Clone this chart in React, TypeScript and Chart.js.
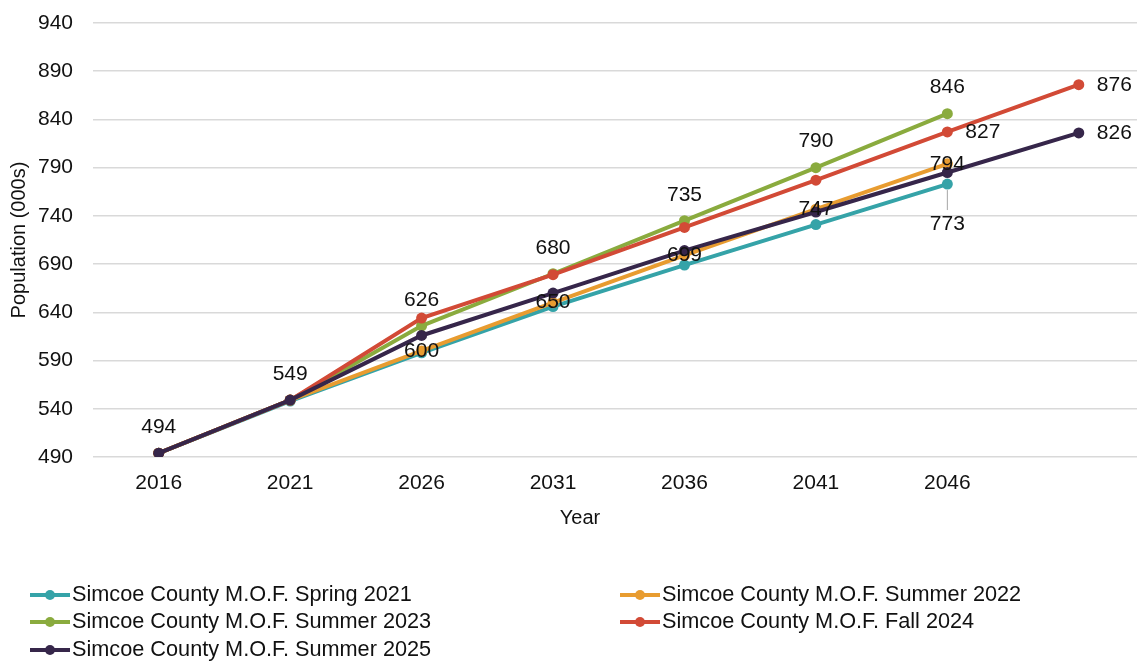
import React, { useEffect, useRef } from "react";
import { Chart, registerables } from "chart.js";

Chart.register(...registerables);

// Census / projection years (the last slot is an unlabelled 2051 projection)
const years = ["2016", "2021", "2026", "2031", "2036", "2041", "2046", ""];

// Population projections, thousands
const spring2021 = [494, 548, 598, 646, 689, 731, 773, null];
const summer2022 = [494, 549, 600, 650, 699, 747, 794, null];
const summer2023 = [494, 549, 626, 680, 735, 790, 846, null];
const fall2024 = [494, 549, 634, 679, 728, 777, 827, 876];
const summer2025 = [494, 549, 616, 660, 704, 744, 785, 826];

const seriesNames = [
  "Simcoe County M.O.F. Spring 2021",
  "Simcoe County M.O.F. Summer 2022",
  "Simcoe County M.O.F. Summer 2023",
  "Simcoe County M.O.F. Fall 2024",
  "Simcoe County M.O.F. Summer 2025",
];
const seriesColors = ["#35a3a8", "#e89c30", "#8aab3e", "#d24a36", "#36264a"];

// Where each point's value label sits: a = above, c = centred, b = below, r = right
const labelsSpring2021 = ["", "", "", "", "", "", "b", ""];
const labelsSummer2022 = ["", "", "c", "c", "c", "c", "c", ""];
const labelsSummer2023 = ["a", "a", "a", "a", "a", "a", "a", ""];
const labelsFall2024 = ["", "", "", "", "", "", "r", "r"];
const labelsSummer2025 = ["", "", "", "", "", "", "", "r"];

const yMin = 490;
const yMax = 940;
const yStep = 50;

const FONT = "'Liberation Sans', Arial, sans-serif";
const TEXT = "#111111";

const valueLabels = {
  id: "valueLabels",
  afterDatasetsDraw(chart: any) {
    const ctx = chart.ctx;
    ctx.save();
    ctx.font = `21px ${FONT}`;
    ctx.fillStyle = TEXT;
    chart.data.datasets.forEach((ds: any, i: number) => {
      const meta = chart.getDatasetMeta(i);
      meta.data.forEach((pt: any, j: number) => {
        const v = ds.data[j];
        const pos = ds.labelPos[j];
        if (v == null || !pos) return;
        const text = String(v);
        const { x, y } = pt;
        if (pos === "a") {
          ctx.textAlign = "center";
          ctx.textBaseline = "middle";
          ctx.fillText(text, x, y - 26);
        } else if (pos === "c") {
          ctx.textAlign = "center";
          ctx.textBaseline = "middle";
          ctx.fillText(text, x, y);
        } else if (pos === "b") {
          ctx.strokeStyle = "#a6a6a6";
          ctx.lineWidth = 1;
          ctx.beginPath();
          ctx.moveTo(x, y + 6);
          ctx.lineTo(x, y + 26);
          ctx.stroke();
          ctx.textAlign = "center";
          ctx.textBaseline = "middle";
          ctx.fillText(text, x, y + 40);
        } else if (pos === "r") {
          ctx.textAlign = "left";
          ctx.textBaseline = "middle";
          ctx.fillText(text, x + 18, y);
        }
      });
    });
    ctx.restore();
  },
};

const legendAndTitle = {
  id: "legendAndTitle",
  afterDraw(chart: any) {
    const ctx = chart.ctx;
    const area = chart.chartArea;
    ctx.save();
    // x-axis title
    ctx.font = `20px ${FONT}`;
    ctx.fillStyle = TEXT;
    ctx.textAlign = "center";
    ctx.textBaseline = "middle";
    ctx.fillText("Year", area.left + 487, 518);

    // legend, two columns
    const cols = [30, 620];
    const rows = [595, 622, 650];
    ctx.font = `21.7px ${FONT}`;
    seriesNames.forEach((name, i) => {
      const x0 = cols[i % 2];
      const yc = rows[Math.floor(i / 2)];
      ctx.strokeStyle = seriesColors[i];
      ctx.fillStyle = seriesColors[i];
      ctx.lineWidth = 4;
      ctx.beginPath();
      ctx.moveTo(x0, yc);
      ctx.lineTo(x0 + 40, yc);
      ctx.stroke();
      ctx.beginPath();
      ctx.arc(x0 + 20, yc, 5, 0, Math.PI * 2);
      ctx.fill();
      ctx.fillStyle = TEXT;
      ctx.textAlign = "left";
      ctx.textBaseline = "middle";
      ctx.fillText(name, x0 + 42, yc);
    });
    ctx.restore();
  },
};

export default function App() {
  const ref = useRef<HTMLCanvasElement | null>(null);

  useEffect(() => {
    if (!ref.current) return;
    const series = [spring2021, summer2022, summer2023, fall2024, summer2025];
    const labelSets = [labelsSpring2021, labelsSummer2022, labelsSummer2023, labelsFall2024, labelsSummer2025];
    const drawOrder = [4, 3, 2, 1, 0];
    const chart = new Chart(ref.current, {
      type: "line",
      data: {
        labels: years,
        datasets: series.map((data, i) => ({
          label: seriesNames[i],
          data,
          labelPos: labelSets[i],
          order: drawOrder[i],
          borderColor: seriesColors[i],
          backgroundColor: seriesColors[i],
          borderWidth: 4,
          pointRadius: 5.5,
          pointBorderWidth: 0,
          pointHoverRadius: 5.5,
          tension: 0,
          spanGaps: false,
        })) as any,
      },
      options: {
        responsive: false,
        animation: false,
        events: [],
        layout: { padding: { left: 0, right: 5, top: 23, bottom: 120 } },
        plugins: { legend: { display: false }, tooltip: { enabled: false } },
        scales: {
          x: {
            type: "category",
            offset: true,
            grid: { display: false, drawTicks: false },
            border: { display: false },
            ticks: {
              color: TEXT,
              font: { family: FONT, size: 21 },
              padding: 14,
              autoSkip: false,
              maxRotation: 0,
            },
            afterFit(s: any) {
              s.height = 85;
              s.paddingLeft = 0;
              s.paddingRight = 0;
            },
          },
          y: {
            min: yMin,
            max: yMax,
            border: { display: false },
            grid: { color: "#d9d9d9", lineWidth: 1.5, drawTicks: false },
            ticks: {
              stepSize: yStep,
              color: TEXT,
              font: { family: FONT, size: 21 },
              padding: 20,
            },
            title: {
              display: true,
              text: "Population (000s)",
              color: TEXT,
              font: { family: FONT, size: 20 },
              padding: { top: 7, bottom: 0 },
            },
            afterFit(s: any) {
              s.width = 93;
              s.paddingTop = 0;
              s.paddingBottom = 0;
            },
          },
        },
      },
      plugins: [valueLabels, legendAndTitle],
    });
    return () => chart.destroy();
  }, []);

  return (
    <div
      style={{
        position: "fixed",
        left: 0,
        top: 0,
        width: 1137,
        height: 662,
        overflow: "hidden",
        background: "#fff",
      }}
    >
      <canvas ref={ref} width={1150} height={662} style={{ width: 1150, height: 662, display: "block" }} />
    </div>
  );
}
